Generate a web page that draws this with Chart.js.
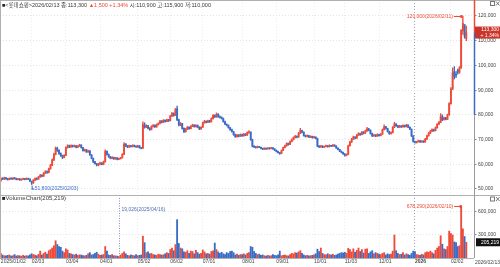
<!DOCTYPE html>
<html>
<head>
<meta charset="utf-8">
<script src="https://cdn.jsdelivr.net/npm/chart.js@4.4.1/dist/chart.umd.min.js"></script>
<style>
  html, body { margin: 0; padding: 0; background: #fff; }
  canvas { display: block; }
</style>
</head>
<body>
<canvas id="chart" width="500" height="267"></canvas>
<script>
// trading days per month
const tradingDays = [
    ['2025/01', [2,3,6,7,8,9,10,13,14,15,16,17,20,21,22,23,24,31]],
    ['2025/02', [3,4,5,6,7,10,11,12,13,14,17,18,19,20,21,24,25,26,27,28]],
    ['2025/03', [4,5,6,7,10,11,12,13,14,17,18,19,20,21,24,25,26,27,28,31]],
    ['2025/04', [1,2,3,4,7,8,9,10,11,14,15,16,17,18,21,22,23,24,25,28,29,30]],
    ['2025/05', [2,7,8,9,12,13,14,15,16,19,20,21,22,23,26,27,28,29,30]],
    ['2025/06', [2,4,5,9,10,11,12,13,16,17,18,19,20,23,24,25,26,27,30]],
    ['2025/07', [1,2,3,4,7,8,9,10,11,14,15,16,17,18,21,22,23,24,25,28,29,30,31]],
    ['2025/08', [1,4,5,6,7,8,11,12,13,14,18,19,20,21,22,25,26,27,28,29]],
    ['2025/09', [1,2,3,4,5,8,9,10,11,12,15,16,17,18,19,22,23,24,25,26,29,30]],
    ['2025/10', [1,2,10,13,14,15,16,17,20,21,22,23,24,27,28,29,30,31]],
    ['2025/11', [3,4,5,6,7,10,11,12,13,14,17,18,19,20,21,24,25,26,27,28]],
    ['2025/12', [1,2,3,4,5,8,9,10,11,12,15,16,17,18,19,22,23,24,26,29,30]],
    ['2026/01', [2,5,6,7,8,9,12,13,14,15,16,19,20,21,22,23,26,27,28,29,30]],
    ['2026/02', [2,3,4,5,6,9,10,11,12,13]],
];

const opens = [
    53300,54200,54000,54500,54100,53800,54300,54000,54400,54200,53900,54100,53700,53900,54200,53900,54300,54000,
    53000,52400,53600,54200,54000,54900,55500,55200,56400,57000,56700,58200,59600,61800,64000,66500,65600,64300,63500,62800,
    63600,66800,67500,67000,67600,67200,67500,66900,67400,67800,66800,65500,65900,65000,65400,63800,62400,61000,60200,59600,
    60100,60500,60000,61000,65200,64000,63000,62400,62800,62200,62600,62000,62300,62600,64000,68200,67400,67000,67500,67200,67700,67300,
    67000,67500,66700,66500,76000,75000,75600,74600,74000,75300,75800,75100,76000,76500,77500,77000,77800,77300,78000,
    77600,79500,80500,79800,82500,78000,75800,76500,74500,73200,74200,75000,74400,75400,75900,75200,75800,75000,74300,
    75000,76800,77400,77000,77600,77200,78500,79800,79200,80200,79300,79000,78600,77300,76200,75800,74800,74000,73200,72000,71200,71800,71400,
    72000,71500,72200,71800,72800,73000,70000,67300,67000,66800,67100,66900,66400,66100,66500,66200,66600,66300,66700,66200,
    65700,65200,64700,64400,65600,66800,67500,68400,68000,69200,70000,70800,71300,71000,72600,73600,73000,71600,71300,71600,71000,71300,
    70800,71000,70500,67400,67000,67400,66900,67200,67500,67100,67600,67300,67800,67400,66600,66000,65300,64800,
    64200,63600,64000,67500,69000,70200,71000,70600,71800,72400,72000,73000,72600,73500,74300,73800,72500,71500,71800,71400,
    72000,71600,72200,74000,75200,74500,73200,72400,72800,75000,76300,75600,75000,75500,75100,75700,75200,75900,75000,74200,71500,
    69200,68800,69100,69500,69000,69400,69000,70200,71500,72600,73400,74000,73600,74800,76200,77000,79200,78000,78800,78200,80000,
    84500,90500,97500,96500,98000,97200,99000,114000,116500,110900,
];
const highs = [
    54500,54600,54800,54700,54300,54500,54500,54600,54700,54400,54300,54200,54100,54400,54300,54500,54400,54100,
    53200,53800,54500,54500,55100,55900,55800,56700,57400,57300,58500,60000,62200,64500,67000,66900,65800,64600,63700,63900,
    67100,67900,67800,67900,67800,67800,67600,67600,68100,67900,66900,66200,66000,65700,65500,63900,62500,61200,60400,60400,
    60900,60700,61300,65800,65400,64200,63200,63100,62900,62800,62700,62500,62800,64300,68800,68400,67600,67800,67700,67900,67800,67500,
    67700,67600,66900,77200,76800,76000,75800,74800,75600,76100,76000,76300,76800,77800,77700,78100,78000,78300,78200,
    79800,81000,80800,82600,83500,78300,76900,76600,74700,74500,75300,75200,75700,76200,76000,76100,75900,75200,75300,
    77100,77800,77600,77900,77800,78800,80100,80000,80800,80500,79600,79200,78700,77500,76400,75900,75000,74200,73300,72200,72100,72000,72300,
    72200,72500,72400,73100,73600,73100,70200,67600,67200,67400,67300,67000,66600,66700,66600,66800,66700,66900,66800,66300,
    65800,65300,64800,65800,67000,67800,68700,68600,69500,70300,71100,71700,71500,72900,74500,73800,73100,71800,71900,71700,71500,71400,
    71300,71100,70600,67600,67700,67500,67400,67800,67600,67900,67700,68000,67900,67500,66700,66100,65400,64900,
    64300,64200,67800,69400,70500,71400,71200,72100,72800,72600,73300,73200,73800,75000,74500,73900,72600,72100,72000,72300,
    72200,72400,74300,76000,75400,74600,73400,73100,75300,77000,76500,75800,75800,75700,76000,75900,76200,76000,75200,74300,71600,
    69400,69300,69800,69600,69600,69500,70500,71800,72900,73700,74300,74200,75100,76500,77400,80500,80000,79100,79000,80300,85000,
    91000,99000,99500,97500,98500,99500,114500,120000,116500,115900,
];
const lows = [
    53100,53800,53900,53900,53600,53700,53900,53800,54000,53700,53700,53500,53500,53800,53700,53800,53800,53000,
    51800,52300,53400,53700,53900,54700,54900,55100,56200,56300,56500,58000,59400,61500,63800,65200,64000,63200,62300,62600,
    63500,66500,66700,66800,66900,67000,66600,66700,67200,66500,65300,65300,64800,64800,63600,62200,60700,60000,59300,59400,
    59800,59700,59800,60900,63700,62800,62200,62200,62000,62000,61800,61900,62100,62500,63900,67100,66700,66800,66900,67000,67000,66800,
    66800,66500,66200,66400,74600,74800,74300,73700,73900,75000,74900,75000,75800,76300,76700,76900,77000,77200,77300,
    77500,79300,79500,79700,77600,75500,75600,74200,72800,73000,74000,74100,74300,75200,75000,75000,74800,74000,74100,
    74900,76600,76700,76800,76900,77100,78300,78900,79000,79000,78700,78300,77000,76000,75500,74600,73700,73000,71700,70900,71000,71100,71200,
    71300,71400,71600,71700,72500,69700,67000,66700,66500,66600,66700,66200,65900,66000,66000,66100,66100,66200,66000,65500,
    65000,64500,64000,64300,65500,66600,67300,67700,67900,69000,69800,70600,70700,70900,72400,72700,71400,71000,71100,70800,70800,70600,
    70600,70300,67100,66700,66800,66700,66800,67000,66900,67000,67100,67200,67200,66400,65800,65100,64600,64000,
    63300,63400,63900,67300,68800,70000,70300,70500,71600,71700,71900,72300,72500,73300,73500,72200,71200,71300,71200,71300,
    71400,71500,72100,73800,74200,73000,72100,72200,72700,74800,75300,74800,74900,74900,75000,75000,75100,74800,74000,71200,68900,
    68500,68600,69000,68800,68900,68800,68900,70100,71400,72400,73200,73300,73500,74600,76000,76800,77600,77800,77900,78100,79800,
    84300,90200,94500,95000,96500,96800,98800,112500,111000,110000,
];
const closes = [
    54200,54000,54500,54100,53800,54300,54100,54400,54200,53900,54100,53700,53900,54200,53900,54300,54000,53300,
    52400,53600,54200,54000,54900,55500,55200,56400,57000,56700,58200,59600,61800,64000,66500,65600,64300,63500,62800,63600,
    66800,67500,67000,67600,67200,67500,66900,67400,67800,66800,65500,65900,65000,65400,63800,62400,61000,60200,59600,60100,
    60500,60000,61000,65200,64000,63000,62400,62800,62200,62600,62000,62300,62600,64000,68200,67400,67000,67500,67200,67700,67300,67000,
    67500,66700,66500,76000,75000,75600,74600,74000,75300,75800,75100,76000,76500,77500,77000,77800,77300,78000,77600,
    79500,80500,79800,82000,78000,75800,76500,74500,73200,74200,75000,74400,75400,75900,75200,75800,75000,74300,75000,
    76800,77400,77000,77600,77200,78500,79800,79200,80200,79300,79000,78600,77300,76200,75800,74800,74000,73200,72000,71200,71800,71400,72000,
    71500,72200,71800,72800,73000,70000,67300,67000,66800,67100,66900,66400,66100,66500,66200,66600,66300,66700,66200,65700,
    65200,64700,64400,65600,66800,67500,68400,68000,69200,70000,70800,71300,71000,72600,73600,73000,71600,71300,71600,71000,71300,70800,
    71000,70500,67400,67000,67400,66900,67200,67500,67100,67600,67300,67800,67400,66600,66000,65300,64800,64200,
    63600,64000,67500,69000,70200,71000,70600,71800,72400,72000,73000,72600,73500,74300,73800,72500,71500,71800,71400,72000,
    71600,72200,74000,75200,74500,73200,72400,72800,75000,76300,75600,75000,75500,75100,75700,75200,75900,75000,74200,71500,69200,
    68800,69100,69500,69000,69400,69000,70200,71500,72600,73400,74000,73600,74800,76200,77000,79200,78000,78800,78200,80000,84500,
    90500,97000,95500,96000,97200,99000,114200,117000,111800,113300,
];
const volumes = [
    62000,38000,30000,28000,35000,40000,26000,30000,45000,27000,33000,29000,24000,36000,25000,31000,28000,40000,
    55000,45000,38000,30000,48000,90000,40000,60000,75000,50000,95000,110000,130000,160000,225000,175000,150000,140000,90000,70000,
    120000,105000,60000,55000,45000,40000,50000,35000,42000,38000,30000,28000,35000,55000,70000,40000,45000,60000,75000,50000,
    35000,40000,45000,150000,90000,40000,35000,45000,30000,28000,25000,19026,40000,60000,80000,55000,35000,30000,40000,35000,28000,45000,
    30000,35000,40000,285000,200000,70000,80000,55000,60000,45000,40000,35000,50000,45000,38000,42000,55000,70000,60000,
    110000,130000,95000,175000,500000,190000,130000,120000,80000,75000,95000,60000,90000,85000,55000,100000,70000,50000,60000,
    105000,80000,55000,60000,50000,85000,95000,195000,110000,80000,60000,75000,55000,45000,70000,60000,85000,90000,70000,40000,50000,35000,45000,
    45000,55000,40000,60000,70000,150000,140000,85000,60000,45000,50000,35000,40000,30000,25000,35000,28000,30000,45000,35000,
    30000,40000,90000,30000,35000,40000,30000,28000,45000,60000,55000,70000,65000,80000,95000,60000,40000,30000,35000,28000,30000,35000,
    40000,55000,115000,85000,130000,60000,45000,40000,55000,45000,40000,50000,35000,40000,50000,60000,70000,65000,
    75000,60000,125000,110000,80000,120000,75000,100000,130000,85000,110000,65000,115000,120000,60000,80000,95000,55000,70000,60000,
    50000,45000,60000,70000,40000,55000,45000,50000,90000,300000,95000,60000,45000,50000,70000,40000,55000,45000,35000,60000,90000,
    85000,45000,40000,35000,50000,40000,70000,80000,75000,90000,70000,55000,100000,130000,150000,290000,180000,120000,110000,150000,350000,
    320000,300000,210000,200000,150000,160000,678290,380000,280000,205219,
];

const priceTicks = [50000,55000,60000,65000,70000,75000,80000,85000,90000,95000,100000,105000,110000,115000,120000];
const volumeTicks = [300000, 600000];
const stockName = '롯데쇼핑';

const UP = '#ee4a38';
const DOWN = '#3a6cc6';
const TXT = '#3a3a3a';
const FONT = "'Liberation Sans', 'Noto Sans CJK KR', sans-serif";

const dates = [];
tradingDays.forEach(([ym, days]) => days.forEach(d => dates.push(`${ym}/${String(d).padStart(2, '0')}`)));

// month start ticks for the x axis
const monthTicks = [];
const monthLabels = {};
dates.forEach((d, i) => {
    if (i === 0) { monthTicks.push(i); monthLabels[i] = d; return; }
    if (d.slice(0, 7) !== dates[i - 1].slice(0, 7)) {
        monthTicks.push(i);
        monthLabels[i] = d.slice(0, 4) !== dates[i - 1].slice(0, 4) ? d.slice(0, 4) : d.slice(5);
    }
});
const yearStart = monthTicks.find(i => monthLabels[i].length === 4);

const isUp = i => closes[i] >= opens[i];
const colorOf = i => isUp(i) ? UP : DOWN;
const fmt = n => n.toLocaleString('en-US');

const last = dates.length - 1;
const change = closes[last] - closes[last - 1];
const changePct = (change / closes[last - 1] * 100).toFixed(2);

const line = (ctx, x1, y1, x2, y2) => { ctx.beginPath(); ctx.moveTo(x1, y1); ctx.lineTo(x2, y2); ctx.stroke(); };

const drawParts = (ctx, parts, x, y) => {
    parts.forEach(([t, c]) => {
        ctx.fillStyle = c;
        ctx.fillText(t, x, y);
        x += ctx.measureText(t).width;
    });
};

const closeIcons = (ctx, y) => {
    ctx.strokeStyle = '#777';
    ctx.lineWidth = 1;
    ctx.strokeRect(490.5, y + 0.5, 4, 4);
    line(ctx, 496, y + 0.5, 499.5, y + 4.5);
    line(ctx, 499.5, y + 0.5, 496, y + 4.5);
};

const overlay = {
    id: 'overlay',
    afterDraw(chart) {
        const { ctx, chartArea: area, scales } = chart;
        const x = scales.x, py = scales.y, vy = scales.v;
        ctx.save();
        ctx.lineWidth = 1;

        // frame & panel separator
        ctx.strokeStyle = '#b0b0b0';
        line(ctx, 0, 0.5, 500, 0.5);
        line(ctx, 0.5, 0, 0.5, area.bottom);
        line(ctx, 0, py.bottom + 0.5, 500, py.bottom + 0.5);
        line(ctx, 0, area.bottom + 0.5, area.right, area.bottom + 0.5);

        // right axis line, coloured above / below current price
        const ax = area.right + 0.5;
        ctx.strokeStyle = '#9a9a9a';
        line(ctx, ax, 0, ax, area.bottom);
        const tagY = py.getPixelForValue(closes[last]);
        ctx.lineWidth = 1.5;
        ctx.strokeStyle = UP;
        line(ctx, ax, 0, ax, tagY);
        ctx.strokeStyle = DOWN;
        line(ctx, ax, tagY, ax, py.getPixelForValue(80000));
        ctx.lineWidth = 1;

        // current price tag
        ctx.fillStyle = '#c9352a';
        ctx.fillRect(area.right + 1, tagY - 6, 26, 12);
        ctx.fillStyle = '#fff';
        ctx.font = `5px ${FONT}`;
        ctx.textAlign = 'right';
        ctx.textBaseline = 'middle';
        ctx.fillText(fmt(closes[last]), 499, tagY - 2.8);
        ctx.fillText(`+ ${changePct}%`, 499, tagY + 2.8);

        // volume tag
        const vTagY = vy.getPixelForValue(volumes[last]);
        ctx.fillStyle = '#111';
        ctx.fillRect(area.right + 2, vTagY - 4, 24, 8);
        ctx.fillStyle = '#fff';
        ctx.fillText(fmt(volumes[last]), 499, vTagY);

        // title line
        ctx.textAlign = 'left';
        ctx.font = `5.5px ${FONT}`;
        drawParts(ctx, [
            ['■', '#222'],
            [`<${stockName}>${dates[last]} 종:${fmt(closes[last])} `, TXT],
            [`▲${fmt(change)} +${changePct}%`, UP],
            [` 시:${fmt(opens[last])} 고:${fmt(highs[last])} 저:${fmt(lows[last])}`, TXT],
        ], 2, 5);
        ctx.font = `6px ${FONT}`;
        drawParts(ctx, [['■', '#222'], [`VolumeChart(${fmt(volumes[last])})`, TXT]], 2, py.bottom + 3.5);
        closeIcons(ctx, 1);
        closeIcons(ctx, py.bottom + 1.5);

        // last date under the right axis
        ctx.font = `5px ${FONT}`;
        ctx.fillStyle = '#444';
        ctx.fillText(dates[last], area.right + 1, area.bottom + 5);

        // highest / lowest price markers
        const hi = highs.indexOf(Math.max(...highs));
        const lo = lows.indexOf(Math.min(...lows));
        const hx = x.getPixelForValue(hi), hy = py.getPixelForValue(highs[hi]);
        ctx.strokeStyle = UP; ctx.fillStyle = UP;
        line(ctx, hx - 9, hy + 0.5, hx - 1, hy + 0.5);
        ctx.fillRect(hx - 2.5, hy - 1, 2, 3);
        ctx.textAlign = 'right';
        ctx.fillText(`${fmt(highs[hi])}(${dates[hi]})`, hx - 10, hy + 0.5);

        const lx = x.getPixelForValue(lo), ly = py.getPixelForValue(lows[lo]);
        ctx.strokeStyle = DOWN; ctx.fillStyle = DOWN;
        line(ctx, lx + 0.5, ly + 1, lx + 0.5, ly + 5);
        line(ctx, lx, ly + 4.5, lx + 3, ly + 4.5);
        ctx.textAlign = 'left';
        ctx.fillText(`${fmt(lows[lo])}(${dates[lo]})`, lx + 3, ly + 4.5);

        // volume min / max markers
        const vmin = volumes.indexOf(Math.min(...volumes));
        const vmax = volumes.indexOf(Math.max(...volumes));
        const mx = Math.round(x.getPixelForValue(vmin)) + 0.5;
        ctx.setLineDash([1, 1.5]);
        ctx.strokeStyle = '#7f93c8';
        line(ctx, mx, vy.top + 3, mx, vy.bottom);
        ctx.setLineDash([]);
        ctx.fillStyle = '#5470b4';
        ctx.fillText(`${fmt(volumes[vmin])}(${dates[vmin]})`, mx + 2, vy.top + 15);

        const Mx = x.getPixelForValue(vmax), My = vy.getPixelForValue(volumes[vmax]);
        ctx.strokeStyle = UP; ctx.fillStyle = UP;
        line(ctx, Mx - 7, My + 0.5, Mx, My + 0.5);
        ctx.fillRect(Mx - 1.5, My - 1, 2, 3);
        ctx.textAlign = 'right';
        ctx.fillText(`${fmt(volumes[vmax])}(${dates[vmax]})`, Mx - 8, My + 0.5);
        ctx.restore();
    }
};

const noPad = s => { s.paddingTop = 0; s.paddingBottom = 0; s.paddingLeft = 0; s.paddingRight = 0; };

document.addEventListener('DOMContentLoaded', () => {
    const ctx = document.getElementById('chart').getContext('2d');
    new Chart(ctx, {
        type: 'bar',
        data: {
            datasets: [
                {
                    label: 'wick',
                    data: dates.map((d, i) => ({ x: i, y: [lows[i], highs[i]] })),
                    yAxisID: 'y',
                    backgroundColor: c => colorOf(c.dataIndex),
                    barThickness: 0.7,
                    grouped: false,
                },
                {
                    label: 'body',
                    data: dates.map((d, i) => ({ x: i, y: [opens[i], closes[i]] })),
                    yAxisID: 'y',
                    backgroundColor: c => colorOf(c.dataIndex),
                    barThickness: 1.2,
                    minBarLength: 0.8,
                    grouped: false,
                },
                {
                    label: 'volume',
                    data: dates.map((d, i) => ({ x: i, y: volumes[i] })),
                    yAxisID: 'v',
                    backgroundColor: c => colorOf(c.dataIndex),
                    barThickness: 1.2,
                    grouped: false,
                }
            ]
        },
        options: {
            responsive: false,
            animation: false,
            devicePixelRatio: 1,
            layout: { padding: 0 },
            plugins: { legend: { display: false }, tooltip: { enabled: false } },
            scales: {
                x: {
                    type: 'linear',
                    offset: false,
                    min: -0.5,
                    max: dates.length + 3.5,
                    afterBuildTicks: s => { s.ticks = monthTicks.map(v => ({ value: v })); },
                    afterFit: s => { s.height = 9; noPad(s); },
                    ticks: {
                        autoSkip: false,
                        maxRotation: 0,
                        align: 'start',
                        padding: 1,
                        color: '#444',
                        font: c => ({ size: 5, family: FONT, weight: c.tick && c.tick.value === yearStart ? 'bold' : 'normal' }),
                        callback: v => monthLabels[v]
                    },
                    grid: {
                        offset: false,
                        drawTicks: false,
                        color: c => c.tick && c.tick.value === yearStart ? '#9aa3b5' : '#ececec'
                    },
                    border: { display: false, dash: [1, 2] }
                },
                y: {
                    type: 'linear',
                    position: 'right',
                    stack: 'panels',
                    stackWeight: 195,
                    min: 47570,
                    max: 126470,
                    afterBuildTicks: s => { s.ticks = priceTicks.map(v => ({ value: v })); },
                    afterFit: s => { s.width = 26; noPad(s); },
                    ticks: { padding: 1.5, color: '#444', font: { size: 5, family: FONT }, callback: v => fmt(v) },
                    grid: { color: '#e4e4e4', tickColor: '#888', tickLength: 2.5 },
                    border: { display: false, dash: [1, 2] }
                },
                v: {
                    type: 'linear',
                    position: 'right',
                    stack: 'panels',
                    stackWeight: 63,
                    min: 0,
                    max: 821700,
                    afterBuildTicks: s => { s.ticks = volumeTicks.map(v => ({ value: v })); },
                    afterFit: s => { s.width = 26; noPad(s); },
                    ticks: { padding: 1.5, color: '#444', font: { size: 5, family: FONT }, callback: v => fmt(v) },
                    grid: { color: '#e4e4e4', tickColor: '#888', tickLength: 2.5 },
                    border: { display: false, dash: [1, 2] }
                }
            }
        },
        plugins: [overlay]
    });
});
</script>
</body>
</html>
